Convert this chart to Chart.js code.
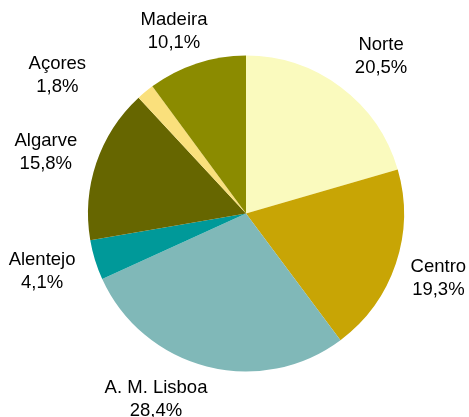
<!DOCTYPE html>
<html>
<head>
<meta charset="utf-8">
<script src="https://cdn.jsdelivr.net/npm/chart.js@4"></script>
<style>
  html, body { margin: 0; padding: 0; background: #ffffff; }
  #wrap { width: 469px; height: 417px; }
</style>
</head>
<body>
<div id="wrap"><canvas id="pie" width="469" height="417"></canvas></div>
<script>
// regions, clockwise from 12 o'clock
const regions = ["Norte", "Centro", "A. M. Lisboa", "Alentejo", "Algarve", "Açores", "Madeira"];
const shares = [20.5, 19.3, 28.4, 4.1, 15.8, 1.8, 10.1];
const shareLabels = ["20,5%", "19,3%", "28,4%", "4,1%", "15,8%", "1,8%", "10,1%"];
const sliceColors = ["#FAFABE", "#C8A505", "#80B8B8", "#009999", "#666600", "#FAE07C", "#8B8B00"];

const FONT = "18.5px 'Liberation Sans', Arial, sans-serif";
const LINE_H = 23;

// "name / share" placed outside each slice along its middle angle,
// with small nudges so they sit where the spreadsheet put them
const outsideLabels = {
    id: "outsideLabels",
    afterDatasetsDraw(chart, args, opts) {
        const ctx = chart.ctx;
        const arcs = chart.getDatasetMeta(0).data;
        ctx.save();
        ctx.font = FONT;
        ctx.fillStyle = "#000000";
        ctx.textAlign = "center";
        ctx.textBaseline = "middle";
        arcs.forEach((arc, i) => {
            const mid = (arc.startAngle + arc.endAngle) / 2;
            const dist = arc.outerRadius + opts.gap;
            const nudge = opts.nudges[i] || [0, 0];
            const x = arc.x + Math.cos(mid) * dist + nudge[0];
            const y = arc.y + Math.sin(mid) * dist + nudge[1];
            ctx.fillText(regions[i], x, y - LINE_H / 2);
            ctx.fillText(shareLabels[i], x, y + LINE_H / 2);
        });
        ctx.restore();
    }
};

new Chart(document.getElementById("pie"), {
    type: "pie",
    data: {
        labels: regions,
        datasets: [{
            data: shares,
            backgroundColor: sliceColors,
            borderWidth: 0
        }]
    },
    options: {
        responsive: false,
        animation: false,
        layout: { padding: { top: 55, bottom: 45, left: 88, right: 65 } },
        plugins: {
            legend: { display: false },
            tooltip: { enabled: false },
            outsideLabels: {
                gap: 47,
                nudges: [[12, 7], [-2, 0], [-39, -13], [-8, -2], [-6, 5], [-58, 20], [-8, 13]]
            }
        }
    },
    plugins: [outsideLabels]
});
</script>
</body>
</html>
